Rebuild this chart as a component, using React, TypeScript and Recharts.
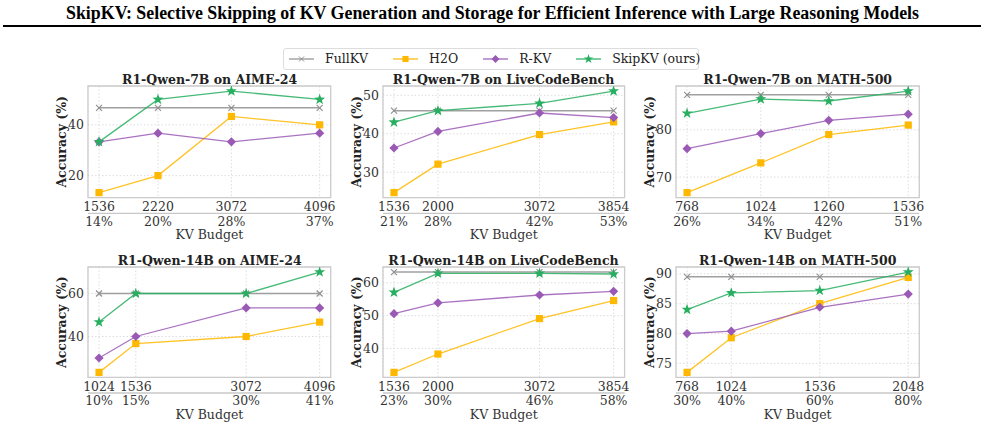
import React from 'react';
import { LineChart, Line, XAxis, YAxis, CartesianGrid, ReferenceArea } from 'recharts';

// ---------- DATA ----------
const seriesNames = ['FullKV', 'H2O', 'R-KV', 'SkipKV (ours)'];

// R1-Qwen-7B on AIME-24
const budgets7bAime = [1536, 2220, 3072, 4096];
const pcts7bAime = ['14%', '20%', '28%', '37%'];
const full7bAime = [46.7, 46.7, 46.7, 46.7];
const h2o7bAime = [13.3, 20.0, 43.3, 40.0];
const rkv7bAime = [33.3, 36.7, 33.3, 36.7];
const skip7bAime = [33.3, 50.0, 53.3, 50.0];
const yTicks7bAime = [20, 40];

// R1-Qwen-7B on LiveCodeBench
const budgets7bLcb = [1536, 2000, 3072, 3854];
const pcts7bLcb = ['21%', '28%', '42%', '53%'];
const full7bLcb = [46.0, 46.0, 46.0, 46.0];
const h2o7bLcb = [24.7, 32.1, 39.8, 43.1];
const rkv7bLcb = [36.3, 40.6, 45.4, 44.2];
const skip7bLcb = [43.0, 46.0, 47.9, 51.1];
const yTicks7bLcb = [30, 40, 50];

// R1-Qwen-7B on MATH-500
const budgets7bMath = [768, 1024, 1260, 1536];
const pcts7bMath = ['26%', '34%', '42%', '51%'];
const full7bMath = [87.4, 87.4, 87.4, 87.4];
const h2o7bMath = [66.7, 73.0, 79.0, 81.0];
const rkv7bMath = [76.0, 79.2, 82.0, 83.3];
const skip7bMath = [83.5, 86.5, 86.1, 88.2];
const yTicks7bMath = [70, 80];

// R1-Qwen-14B on AIME-24
const budgets14bAime = [1024, 1536, 3072, 4096];
const pcts14bAime = ['10%', '15%', '30%', '41%'];
const full14bAime = [60.0, 60.0, 60.0, 60.0];
const h2o14bAime = [23.3, 36.7, 40.0, 46.7];
const rkv14bAime = [30.0, 40.0, 53.3, 53.3];
const skip14bAime = [46.7, 60.0, 60.0, 70.0];
const yTicks14bAime = [40, 60];

// R1-Qwen-14B on LiveCodeBench
const budgets14bLcb = [1536, 2000, 3072, 3854];
const pcts14bLcb = ['23%', '30%', '46%', '58%'];
const full14bLcb = [63.3, 63.3, 63.3, 63.3];
const h2o14bLcb = [32.7, 38.3, 49.1, 54.6];
const rkv14bLcb = [50.6, 53.9, 56.3, 57.4];
const skip14bLcb = [57.1, 62.9, 62.9, 62.7];
const yTicks14bLcb = [40, 50, 60];

// R1-Qwen-14B on MATH-500
const budgets14bMath = [768, 1024, 1536, 2048];
const pcts14bMath = ['30%', '40%', '60%', '80%'];
const full14bMath = [89.5, 89.5, 89.5, 89.5];
const h2o14bMath = [73.5, 79.3, 85.0, 89.4];
const rkv14bMath = [80.0, 80.4, 84.4, 86.6];
const skip14bMath = [84.0, 86.8, 87.2, 90.3];
const yTicks14bMath = [75, 80, 85, 90];

// ---------- STYLE / LAYOUT ----------
const C_FULL = '#8f8f8f';
const C_H2O = '#FFB800';
const C_RKV = '#9B59B6';
const C_SKIP = '#27AE60';
const SERIF = '"DejaVu Serif", serif';
const TICK_FS = 12.5;

const Y_AXIS_W = 60;
const M_TOP = 4;
const M_RIGHT = 6;
const AX1_H = 15.6;
const AX2_H = 30;
const M_BOTTOM = 2;

const ROW_T = [86, 267.3];
const ROW_B = [197.7, 377.7];
const COL_L = [88.3, 382.7, 676];
const COL_R = [331, 624.3, 919.3];

const panels = [
  { title: 'R1-Qwen-7B on AIME-24', budgets: budgets7bAime, pcts: pcts7bAime, full: full7bAime, h2o: h2o7bAime, rkv: rkv7bAime, skip: skip7bAime, yTicks: yTicks7bAime, row: 0, col: 0 },
  { title: 'R1-Qwen-7B on LiveCodeBench', budgets: budgets7bLcb, pcts: pcts7bLcb, full: full7bLcb, h2o: h2o7bLcb, rkv: rkv7bLcb, skip: skip7bLcb, yTicks: yTicks7bLcb, row: 0, col: 1 },
  { title: 'R1-Qwen-7B on MATH-500', budgets: budgets7bMath, pcts: pcts7bMath, full: full7bMath, h2o: h2o7bMath, rkv: rkv7bMath, skip: skip7bMath, yTicks: yTicks7bMath, row: 0, col: 2 },
  { title: 'R1-Qwen-14B on AIME-24', budgets: budgets14bAime, pcts: pcts14bAime, full: full14bAime, h2o: h2o14bAime, rkv: rkv14bAime, skip: skip14bAime, yTicks: yTicks14bAime, row: 1, col: 0 },
  { title: 'R1-Qwen-14B on LiveCodeBench', budgets: budgets14bLcb, pcts: pcts14bLcb, full: full14bLcb, h2o: h2o14bLcb, rkv: rkv14bLcb, skip: skip14bLcb, yTicks: yTicks14bLcb, row: 1, col: 1 },
  { title: 'R1-Qwen-14B on MATH-500', budgets: budgets14bMath, pcts: pcts14bMath, full: full14bMath, h2o: h2o14bMath, rkv: rkv14bMath, skip: skip14bMath, yTicks: yTicks14bMath, row: 1, col: 2 },
];

// ---------- MARKERS ----------
function starPath(cx: number, cy: number, R: number, r: number) {
  let d = '';
  for (let i = 0; i < 10; i++) {
    const a = -Math.PI / 2 + (i * Math.PI) / 5;
    const rad = i % 2 === 0 ? R : r;
    d += (i ? 'L' : 'M') + (cx + rad * Math.cos(a)).toFixed(2) + ',' + (cy + rad * Math.sin(a)).toFixed(2);
  }
  return d + 'Z';
}

function Marker({ kind, cx, cy }: { kind: string; cx: number; cy: number }) {
  if (cx == null || cy == null || isNaN(cx) || isNaN(cy)) return null;
  if (kind === 'x') {
    const s = 3;
    return (
      <g>
        <line x1={cx - s} y1={cy - s} x2={cx + s} y2={cy + s} stroke={C_FULL} strokeWidth={1.1} />
        <line x1={cx - s} y1={cy + s} x2={cx + s} y2={cy - s} stroke={C_FULL} strokeWidth={1.1} />
      </g>
    );
  }
  if (kind === 'sq') {
    const s = 3.6;
    return <rect x={cx - s} y={cy - s} width={2 * s} height={2 * s} fill={C_H2O} />;
  }
  if (kind === 'dia') {
    const s = 4.6;
    return <path d={`M${cx},${cy - s}L${cx + s},${cy}L${cx},${cy + s}L${cx - s},${cy}Z`} fill={C_RKV} />;
  }
  return <path d={starPath(cx, cy, 5.8, 2.3)} fill={C_SKIP} />;
}

const makeDot = (kind: string) => (props: any) => (
  <g key={`${kind}-${props.index}`}>
    <Marker kind={kind} cx={props.cx} cy={props.cy} />
  </g>
);

// ---------- PANEL ----------
function Panel({ p }: { p: any }) {
  const L = COL_L[p.col];
  const R = COL_R[p.col];
  const T = ROW_T[p.row];
  const B = ROW_B[p.row];
  const plotW = R - L;
  const plotH = B - T;
  const width = Y_AXIS_W + plotW + M_RIGHT;
  const height = M_TOP + plotH + AX1_H + AX2_H + M_BOTTOM;

  const data = p.budgets.map((b: number, i: number) => ({
    budget: b,
    full: p.full[i],
    h2o: p.h2o[i],
    rkv: p.rkv[i],
    skip: p.skip[i],
  }));
  const xmin = Math.min(...p.budgets);
  const xmax = Math.max(...p.budgets);
  const xm = (xmax - xmin) * 0.05;
  const allY = [...p.full, ...p.h2o, ...p.rkv, ...p.skip];
  const ymin = Math.min(...allY);
  const ymax = Math.max(...allY);
  const ym = (ymax - ymin) * 0.05;
  const xDomain = [xmin - xm, xmax + xm];
  const yDomain = [ymin - ym, ymax + ym];

  const NumTick = (t: any) => (
    <text x={t.x} y={t.y + 13.6} textAnchor="middle" fontSize={TICK_FS} fill="#333" fontFamily={SERIF}>
      {t.payload.value}
    </text>
  );
  const PctTick = (t: any) => (
    <text x={t.x} y={t.y + 12.3} textAnchor="middle" fontSize={TICK_FS} fill="#333" fontFamily={SERIF}>
      {p.pcts[p.budgets.indexOf(t.payload.value)]}
    </text>
  );
  const YTick = (t: any) => (
    <text x={t.x - 4} y={t.y + 4.6} textAnchor="end" fontSize={TICK_FS} fill="#333" fontFamily={SERIF}>
      {t.payload.value}
    </text>
  );
  const YLabel = (lp: any) => {
    const vb = lp.viewBox || { x: 0, y: M_TOP, width: Y_AXIS_W, height: plotH };
    const x = vb.x + vb.width - 26.5;
    const y = vb.y + vb.height / 2;
    return (
      <text x={x} y={y} transform={`rotate(-90, ${x}, ${y})`} textAnchor="middle" dominantBaseline="central"
        fontSize={12.5} fontWeight="bold" fill="#222" fontFamily={SERIF}>
        Accuracy (%)
      </text>
    );
  };
  const XLabel = (lp: any) => {
    const vb = lp.viewBox || { x: Y_AXIS_W, y: M_TOP + plotH + AX1_H, width: plotW, height: AX2_H };
    return (
      <text x={vb.x + vb.width / 2} y={vb.y + 25.6} textAnchor="middle" fontSize={TICK_FS} fill="#333" fontFamily={SERIF}>
        KV Budget
      </text>
    );
  };

  return (
    <div style={{ position: 'absolute', left: L - Y_AXIS_W, top: T - M_TOP }}>
      <LineChart width={width} height={height} data={data} margin={{ top: M_TOP, right: M_RIGHT, left: 0, bottom: M_BOTTOM }}>
        <CartesianGrid stroke="#d9d9d9" strokeDasharray="1.5 2" strokeWidth={0.9} />
        <XAxis xAxisId={0} dataKey="budget" type="number" domain={xDomain} ticks={p.budgets} allowDataOverflow
          height={AX1_H} axisLine={false} tickLine={false} tickSize={0} tickMargin={0} tick={NumTick} interval={0} />
        <XAxis xAxisId="pct" dataKey="budget" type="number" domain={xDomain} ticks={p.budgets} allowDataOverflow
          height={AX2_H} axisLine={{ stroke: '#c8c8c8', strokeWidth: 1.3 }} tickLine={false} tickSize={0} tickMargin={0}
          tick={PctTick} interval={0} label={{ content: XLabel }} />
        <YAxis type="number" domain={yDomain} ticks={p.yTicks} allowDataOverflow width={Y_AXIS_W}
          axisLine={false} tickLine={false} tickSize={0} tickMargin={0} tick={YTick} interval={0}
          label={{ content: YLabel }} />
        <ReferenceArea x1={xDomain[0]} x2={xDomain[1]} y1={yDomain[0]} y2={yDomain[1]} fill="none"
          stroke="#cccccc" strokeWidth={1.3} ifOverflow="visible" />
        <Line dataKey="full" name={seriesNames[0]} stroke={C_FULL} strokeWidth={1.5} strokeOpacity={0.85}
          dot={makeDot('x')} activeDot={false} isAnimationActive={false} />
        <Line dataKey="h2o" name={seriesNames[1]} stroke={C_H2O} strokeWidth={1.3} strokeOpacity={0.85}
          dot={makeDot('sq')} activeDot={false} isAnimationActive={false} />
        <Line dataKey="rkv" name={seriesNames[2]} stroke={C_RKV} strokeWidth={1.3} strokeOpacity={0.85}
          dot={makeDot('dia')} activeDot={false} isAnimationActive={false} />
        <Line dataKey="skip" name={seriesNames[3]} stroke={C_SKIP} strokeWidth={1.3} strokeOpacity={0.85}
          dot={makeDot('star')} activeDot={false} isAnimationActive={false} />
      </LineChart>
    </div>
  );
}

// ---------- LEGEND ----------
const legendItems = [
  { name: seriesNames[0], color: C_FULL, kind: 'x' },
  { name: seriesNames[1], color: C_H2O, kind: 'sq' },
  { name: seriesNames[2], color: C_RKV, kind: 'dia' },
  { name: seriesNames[3], color: C_SKIP, kind: 'star' },
];

function LegendBox() {
  return (
    <div style={{
      position: 'absolute', left: 283, top: 48, width: 416, height: 22, boxSizing: 'border-box',
      border: '1px solid #dddddd', borderRadius: 3, display: 'flex', alignItems: 'center', paddingLeft: 5,
      fontFamily: SERIF, fontSize: 12.5, color: '#222', background: '#fff', whiteSpace: 'nowrap',
    }}>
      {legendItems.map((it, i) => (
        <div key={it.name} style={{ display: 'flex', alignItems: 'center', flexShrink: 0, marginRight: i < 3 ? 25 : 0 }}>
          <svg width={25} height={12} style={{ display: 'block', flexShrink: 0 }}>
            <line x1={0} y1={6} x2={25} y2={6} stroke={it.color} strokeWidth={1.5} strokeOpacity={0.8} />
            <g transform="translate(12.5,6) scale(0.85) translate(-12.5,-6)">
              <Marker kind={it.kind} cx={12.5} cy={6} />
            </g>
          </svg>
          <span style={{ marginLeft: 11, lineHeight: '12px', whiteSpace: 'nowrap' }}>{it.name}</span>
        </div>
      ))}
    </div>
  );
}

// ---------- APP ----------
export default function App() {
  return (
    <div style={{ position: 'absolute', left: 0, top: 0, width: 985, height: 428, background: '#ffffff', overflow: 'hidden' }}>
      <svg width={985} height={428} style={{ position: 'absolute', left: 0, top: 0 }}>
        <text x={492.5} y={18.8} textAnchor="middle" fontFamily='"Liberation Serif", "Times New Roman", serif'
          fontWeight="bold" fontSize={18} fill="#000" textLength={853} lengthAdjust="spacingAndGlyphs">
          SkipKV: Selective Skipping of KV Generation and Storage for Efficient Inference with Large Reasoning Models
        </text>
        <rect x={3} y={25} width={978} height={2} fill="#000" />
        {panels.map((p) => (
          <text key={p.title} x={(COL_L[p.col] + COL_R[p.col]) / 2} y={ROW_T[p.row] - 2} textAnchor="middle"
            fontFamily={SERIF} fontWeight="bold" fontSize={12.5} fill="#222">
            {p.title}
          </text>
        ))}
      </svg>
      <LegendBox />
      {panels.map((p) => (
        <Panel key={p.title} p={p} />
      ))}
    </div>
  );
}
